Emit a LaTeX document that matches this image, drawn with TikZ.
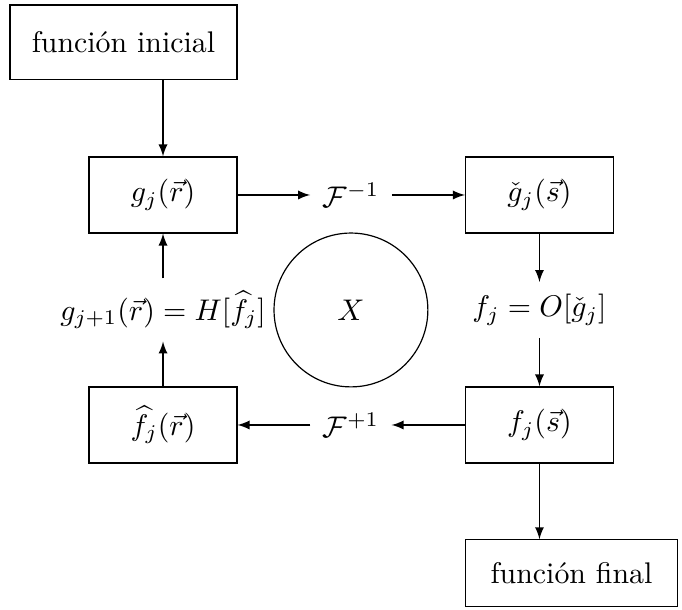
\documentclass[tikz,border=0pt]{standalone}
\usepackage{amsmath,amssymb}
\usetikzlibrary{arrows.meta, positioning, calc}

\begin{document}
\begin{tikzpicture}[
    box/.style={draw, minimum width=1.74cm, minimum height=0.894cm},
    arrow/.style={->, >=latex},
    lbl/.style={inner sep=4pt}
]
    \useasboundingbox (0,0) rectangle (8.024,-7.176);
    \node[draw, minimum width=2.67cm, minimum height=0.88cm] (ini) at (1.453,-0.5) {funci\'on inicial};
    \node[box] (g) at (1.918,-2.294) {$g_j(\vec{r})$};
    \node[box] (gc) at (6.347,-2.294) {$\check{g}_j(\vec{s})$};
    \node[box] (fh) at (1.918,-5.0) {$\widehat{f}_j(\vec{r})$};
    \node[box] (fs) at (6.347,-5.0) {$f_j(\vec{s})$};
    \node[draw, minimum width=2.5cm, minimum height=0.78cm] (fin) at (6.724,-6.741) {funci\'on final};
    \node[draw, circle, minimum size=1.81cm] (x) at (4.129,-3.647) {$X$};
    \node[lbl] (finv) at (4.129,-2.294) {$\mathcal{F}^{-1}$};
    \node[lbl] (fdir) at (4.129,-5.0) {$\mathcal{F}^{+1}$};
    \node[lbl] (op) at (6.347,-3.647) {$f_j = O[\check{g}_j]$};
    \node[lbl] (hh) at (1.918,-3.647) {$g_{j+1}(\vec{r}) = H[\widehat{f_j}]$};
    \draw[arrow] (g.north |- ini.south) -- (g.north);
    \draw[arrow] (g) -- (finv);
    \draw[arrow] (finv) -- (gc);
    \draw[arrow] (gc) -- (op);
    \draw[arrow] (op) -- (fs);
    \draw[arrow] (fs) -- (fdir);
    \draw[arrow] (fdir) -- (fh);
    \draw[arrow] (fh) -- (hh);
    \draw[arrow] (hh) -- (g);
    \draw[arrow] (fs.south) -- (fs.south |- fin.north);
\end{tikzpicture}
\end{document}
